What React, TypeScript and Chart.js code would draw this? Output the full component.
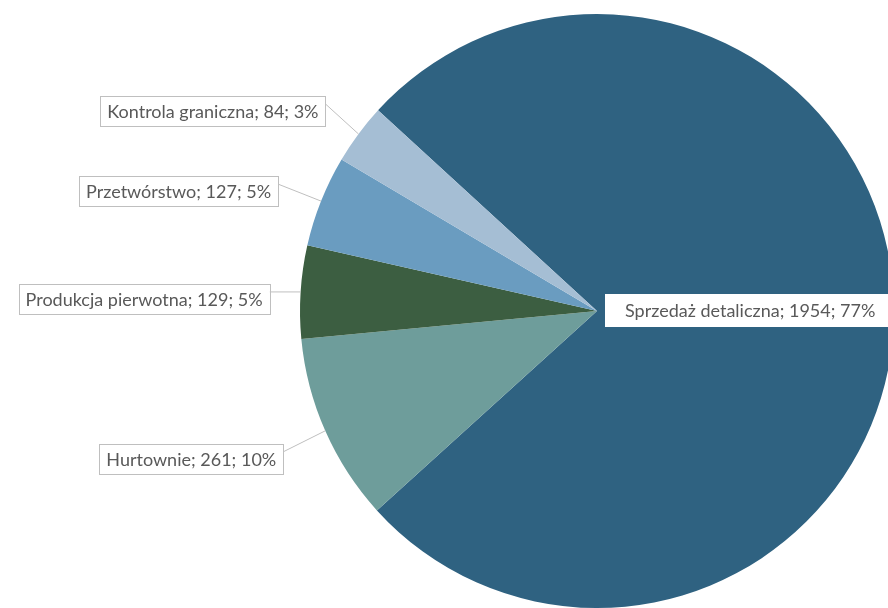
import React, { useEffect, useRef } from "react";
import { Chart, registerables } from "chart.js";

Chart.register(...registerables);

const categories = [
  "Sprzedaż detaliczna",
  "Hurtownie",
  "Produkcja pierwotna",
  "Przetwórstwo",
  "Kontrola graniczna",
];
const values = [1954, 261, 129, 127, 84];
const colors = ["#2F6281", "#6E9D9B", "#3C5E41", "#6A9CC0", "#A5BED4"];

// label layout: offset of box relative to slice's outer mid-point (or pie centre)
const labelLayout = [
  { mode: "center", dx: 8, dy: -17 },
  { mode: "outer", dx: -42, dy: 13 },
  { mode: "outer", dx: -31, dy: -8 },
  { mode: "outer", dx: -43, dy: -25 },
  { mode: "outer", dx: -33, dy: -38 },
];

const FONT = "18px Lato";
const TEXT_COLOR = "#595959";
const BORDER = "#BFBFBF";
const PAD = 7;
const BOX_H = 30;

// percentages rounded so that they sum to 100 (largest remainder)
function roundedPercents(data: number[]): number[] {
  const total = data.reduce((a, b) => a + b, 0);
  const raw = data.map((v) => (v / total) * 100);
  const fl = raw.map((r) => Math.floor(r));
  let rest = 100 - fl.reduce((a, b) => a + b, 0);
  const order = raw
    .map((r, i) => ({ i, rem: r - Math.floor(r) }))
    .sort((a, b) => b.rem - a.rem);
  for (let k = 0; k < rest; k++) fl[order[k].i] += 1;
  return fl;
}

const labelPlugin = {
  id: "pieLabels",
  afterDraw(chart: any) {
    const ctx = chart.ctx;
    const meta = chart.getDatasetMeta(0);
    const data = chart.data.datasets[0].data as number[];
    const pcts = roundedPercents(data);
    ctx.save();
    ctx.font = FONT;
    ctx.textBaseline = "middle";
    meta.data.forEach((arc: any, i: number) => {
      const p = arc.getProps(["x", "y", "startAngle", "endAngle", "outerRadius"], true);
      const mid = (p.startAngle + p.endAngle) / 2;
      const text = `${chart.data.labels[i]}; ${data[i]}; ${pcts[i]}%`;
      const tw = ctx.measureText(text).width;
      const w = tw + PAD * 2;
      const lay = labelLayout[i];
      let bx: number, by: number;
      if (lay.mode === "center") {
        bx = p.x + lay.dx;
        by = p.y + lay.dy;
        ctx.fillStyle = "#FFFFFF";
        ctx.fillRect(bx, by, w + 40, 33);
        ctx.fillStyle = TEXT_COLOR;
        ctx.textAlign = "left";
        ctx.fillText(text, bx + 20, by + 17);
        return;
      }
      const ax = p.x + Math.cos(mid) * p.outerRadius;
      const ay = p.y + Math.sin(mid) * p.outerRadius;
      const right = ax + lay.dx;
      bx = right - w;
      by = ay + lay.dy;
      // leader line
      ctx.strokeStyle = BORDER;
      ctx.lineWidth = 1;
      ctx.beginPath();
      ctx.moveTo(right, by + 8);
      ctx.lineTo(ax, ay);
      ctx.stroke();
      ctx.fillStyle = "#FFFFFF";
      ctx.fillRect(bx, by, w, BOX_H);
      ctx.strokeRect(Math.round(bx) + 0.5, Math.round(by) + 0.5, Math.round(w), BOX_H);
      ctx.fillStyle = TEXT_COLOR;
      ctx.textAlign = "center";
      ctx.fillText(text, bx + w / 2, by + BOX_H / 2 + 1);
    });
    ctx.restore();
  },
};

export default function App() {
  const ref = useRef<HTMLCanvasElement | null>(null);
  useEffect(() => {
    document.body.style.margin = "0";
    if (!ref.current) return;
    const chart = new Chart(ref.current, {
      type: "pie",
      data: {
        labels: categories,
        datasets: [
          {
            data: values,
            backgroundColor: colors,
            borderWidth: 0,
          },
        ],
      },
      options: {
        responsive: false,
        animation: false,
        rotation: -47.5,
        layout: { padding: { left: 300, top: 14, right: 6, bottom: 12 } },
        plugins: {
          legend: { display: false },
          tooltip: { enabled: false },
        },
      },
      plugins: [labelPlugin],
    });
    return () => chart.destroy();
  }, []);
  return (
    <div
      style={{
        position: "absolute",
        left: 0,
        top: 0,
        width: 888,
        height: 608,
        overflow: "hidden",
        background: "#FFFFFF",
      }}
    >
      <canvas ref={ref} width={900} height={620} style={{ display: "block" }} />
    </div>
  );
}
